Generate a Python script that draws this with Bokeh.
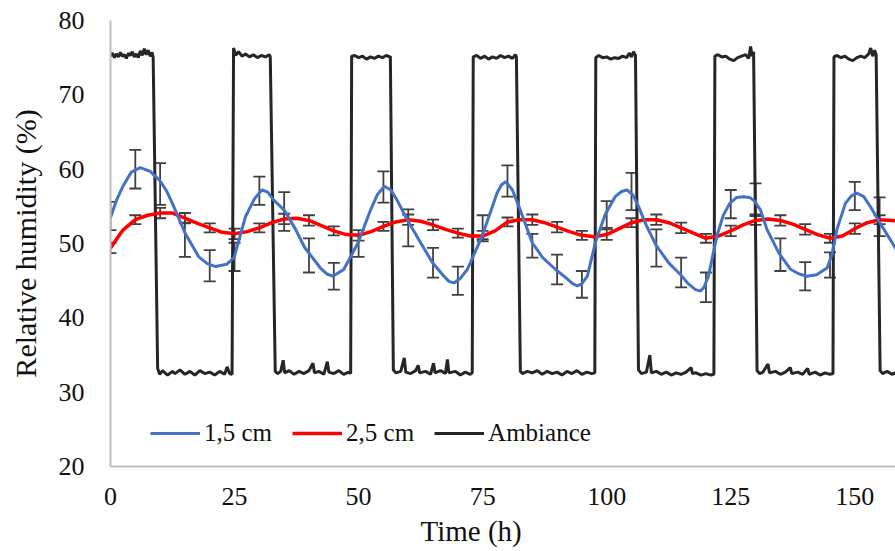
from bokeh.plotting import figure
from bokeh.models import (Range1d, ColumnDataSource, Whisker, TeeHead, Legend, LegendItem,
                          FixedTicker, Title)
from bokeh.embed import file_html
from bokeh.resources import INLINE

# ---------------- data ----------------
x_ticks = [0, 25, 50, 75, 100, 125, 150]
y_ticks = [20, 30, 40, 50, 60, 70, 80]

# Ambiance (black) trace
amb_t = [0, 0.4, 0.8, 1.2, 1.6, 2.0, 2.4, 2.8, 3.2, 3.6, 4.0, 4.4, 4.8, 5.2, 5.6, 6.0, 6.4, 6.8, 7.2, 7.6, 8.0, 8.4, 8.6,
         9.5, 9.9, 10.5, 11.5, 12.5, 13, 14, 15, 16, 17, 18, 19, 20, 21, 22, 23, 23.5, 24, 24.5,
         24.8, 25.2, 25.8, 26.5, 27.2, 28, 28.8, 29.6, 30.4, 31.2, 32.0, 32.2,
         33.2, 33.7, 34.3, 34.8, 35.1, 36, 37, 38, 39, 40, 40.8, 41.1, 42, 43, 43.7, 44, 45, 46, 47, 48, 48.4,
         48.6, 49.2, 50, 50.8, 51.6, 52.4, 53.2, 54, 54.8, 55.6, 56.2, 56.4,
         57.0, 57.5, 58.5, 59.2, 59.5, 60.5, 61.5, 62, 62.3, 63.5, 64.5, 65.1, 65.4, 66.5, 67.5, 67.9, 68.2, 69.5, 70.5, 71.5, 72.5, 72.9,
         73.1, 73.8, 74.6, 75.4, 76.2, 77, 77.8, 78.6, 79.4, 80.2, 81, 81.6, 81.8,
         82.6, 83, 84, 85, 86, 87, 88, 89, 90, 91, 92, 93, 94, 95, 96, 97, 97.6,
         97.8, 98.4, 99.2, 100, 100.8, 101.6, 102.4, 103.2, 104, 104.6, 105, 105.4, 105.8,
         106.4, 107, 108, 108.7, 109, 110, 111, 112, 113, 114, 115, 116, 117, 117.3, 118, 119, 120, 121, 121.6,
         121.8, 122.4, 123.2, 124, 124.8, 125.6, 126.4, 127.2, 128, 128.6, 129, 129.3, 129.6,
         130.3, 130.8, 131.5, 132.5, 132.8, 134, 135, 136, 137, 137.3, 138.5, 139.5, 140.5, 140.8, 142, 143, 144, 145, 145.6,
         145.8, 146.4, 147.2, 148, 148.8, 149.6, 150.4, 151.2, 152, 152.8, 153.2, 153.6, 154, 154.3,
         155.1, 155.6, 156.5, 157.5, 158.5, 159]
amb_v = [75.2, 75.6, 75.0, 75.5, 75.1, 75.7, 75.2, 75.4, 74.9, 75.6, 75.3, 75.8, 75.1, 75.5, 75.0, 75.9, 75.3, 76.2, 75.4, 76.0, 75.2, 75.7, 75.0,
         33.2, 32.4, 32.9, 32.3, 32.8, 32.5, 33.0, 32.4, 32.8, 32.3, 32.9, 32.5, 32.7, 32.3, 32.8, 32.4, 33.4, 32.5, 32.4,
         76.3, 75.3, 75.8, 75.2, 75.5, 75.1, 75.4, 75.0, 75.3, 75.1, 75.4, 75.1,
         32.8, 32.5, 32.8, 34.3, 32.6, 32.9, 32.4, 32.8, 32.5, 32.9, 33.9, 32.6, 32.8, 32.4, 34.1, 32.7, 32.5, 32.9, 32.4, 32.7, 32.5,
         75.2, 75.3, 75.0, 75.2, 74.8, 75.1, 74.9, 75.2, 75.0, 75.3, 75.1, 75.2,
         33.0, 32.6, 32.8, 34.6, 32.7, 32.5, 32.9, 33.6, 32.6, 32.8, 32.4, 33.9, 32.6, 32.9, 32.5, 34.4, 32.6, 32.8, 32.3, 32.7, 32.4, 32.6,
         75.1, 75.3, 74.9, 75.2, 74.8, 75.1, 74.9, 75.3, 75.0, 75.2, 74.9, 75.4, 75.1,
         32.8, 32.5, 32.8, 32.6, 32.9, 32.4, 32.8, 32.5, 32.7, 32.3, 32.8, 32.5, 32.9, 32.4, 32.7, 32.5, 32.6,
         75.0, 75.3, 75.0, 75.1, 74.8, 75.0, 74.9, 75.2, 75.0, 75.6, 75.1, 75.8, 75.3,
         33.0, 32.5, 32.7, 35.0, 32.6, 32.8, 32.4, 32.7, 32.3, 32.6, 32.4, 32.7, 33.3, 32.5, 32.6, 32.3, 32.5, 32.3, 32.4,
         75.2, 75.4, 75.1, 75.2, 74.8, 74.6, 75.0, 75.2, 75.4, 74.9, 76.5, 75.2, 75.8,
         32.9, 32.5, 32.7, 33.8, 32.6, 32.8, 32.4, 32.7, 33.3, 32.5, 32.7, 32.4, 33.2, 32.4, 32.7, 32.3, 32.6, 32.4, 32.5,
         75.1, 75.3, 75.0, 75.2, 74.8, 74.6, 75.0, 75.2, 75.0, 75.5, 76.3, 75.2, 76.0, 75.4,
         32.9, 32.5, 32.8, 32.4, 32.7, 32.5]

# 1,5 cm (blue) smoothed curve
c15_t = [0, 1.2, 2.5, 4.2, 6.0, 8.0, 9.9, 11.2, 12.4, 15.1, 17.8, 19.5, 21.2, 23.4, 24.9, 27.2, 29.0, 30.5, 31.7,
         32.8, 35.0, 37.3, 39.1, 42.3, 43.6, 44.8, 47.0, 49.9, 52.4, 53.8, 55.2, 56.5, 57.7, 59.8, 62.5, 64.9, 67.2,
         68.2, 69.2, 70.5, 71.9, 74.9, 77.9, 78.8, 79.7, 81.0, 82.3, 85.0, 87.1, 89.7, 92.1, 93.1, 94.1, 95.0, 96.1,
         97.7, 99.7, 101.7, 103.0, 104.1, 105.3, 106.4, 108.0, 110.0, 112.5, 114.9, 116.4, 117.9, 118.9, 119.6,
         120.5, 122.2, 123.5, 124.8, 126.2, 127.6, 128.8, 129.8, 131.0, 132.3, 134.7, 137.1, 138.8, 140.4, 142.3,
         144.4, 145.4, 146.4, 148.1, 149.3, 150.4, 151.8, 153.1, 155.5, 157.9, 159]
c15_v = [53.5, 55.8, 57.7, 59.6, 60.2, 59.7, 58.5, 57.2, 55.5, 51.3, 48.2, 47.3, 46.9, 47.2, 48.1, 53.6, 56.0, 57.2, 56.9,
         55.9, 54.5, 51.9, 49.5, 46.7, 45.9, 45.6, 46.5, 50.1, 54.5, 56.6, 57.7, 57.2, 55.9, 53.2, 50.1, 47.4, 45.6,
         44.9, 44.7, 45.3, 46.5, 51.0, 56.8, 57.9, 58.3, 57.2, 55.0, 50.1, 48.1, 46.5, 45.2, 44.6, 44.3, 44.6, 45.6,
         50.1, 53.9, 56.3, 57.0, 57.2, 56.5, 55.0, 52.4, 49.7, 47.4, 45.8, 44.6, 43.8, 43.6, 44.1,
         45.6, 51.0, 53.8, 55.4, 56.2, 56.3, 56.2, 55.7, 54.5, 51.9, 48.7, 46.5, 45.9, 45.6, 45.8,
         46.7, 48.5, 51.9, 55.4, 56.4, 56.8, 56.3, 55.0, 52.3, 49.7, 48.5]

# 2,5 cm (red) smoothed curve
c25_t = [0, 2.5, 5, 7.5, 10, 12.5, 15, 17.5, 20, 22.5, 25, 27.5, 30, 32.5, 35, 37.5, 40, 42.5, 45, 47.5, 50, 52.5,
         55, 57.5, 60, 62.5, 65, 67.5, 70, 72.5, 75, 77.5, 80, 82.5, 85, 87.5, 90, 92.5, 95, 97.5, 100, 102.5, 105,
         107.5, 110, 112.5, 115, 117.5, 120, 122.5, 125, 127.5, 130, 132.5, 135, 137.5, 140, 142.5, 145, 147.5, 150,
         152.5, 155, 157.5, 159]
c25_v = [49.4, 51.8, 53.2, 53.8, 54.1, 54.1, 53.4, 52.7, 52.1, 51.5, 51.3, 51.6, 52.1, 52.8, 53.3, 53.4, 53.1, 52.4,
         51.7, 51.2, 51.1, 51.6, 52.3, 52.9, 53.2, 53.0, 52.5, 51.9, 51.4, 51.0, 51.0, 51.7, 52.9, 53.2, 53.2, 52.8,
         52.2, 51.6, 51.1, 50.9, 51.2, 52.0, 52.8, 53.2, 53.2, 52.8, 52.1, 51.4, 50.7, 51.0, 51.7, 52.5, 53.1, 53.3,
         53.1, 52.6, 51.9, 51.2, 50.7, 51.0, 52.0, 52.8, 53.2, 53.1, 53.0]

# error bars (every 5 h)
err_t = [0, 5, 10, 15, 20, 25, 30, 35, 40, 45, 50, 55, 60, 65, 70, 75, 80, 85, 90, 95, 100, 105, 110, 115, 120,
         125, 130, 135, 140, 145, 150, 155]
m15 = [53.7, 60.0, 58.0, 50.5, 47.0, 48.2, 57.1, 54.3, 48.4, 45.6, 49.7, 57.6, 52.1, 47.4, 45.0, 52.2, 58.4, 49.7,
       46.5, 44.5, 53.9, 57.0, 49.4, 46.1, 44.1, 55.3, 56.0, 48.5, 45.6, 47.1, 56.4, 53.6]
e15 = [1.9, 2.6, 2.8, 2.3, 2.1, 1.9, 1.9, 2.6, 2.3, 1.8, 1.5, 2.1, 2.5, 2.0, 1.9, 1.6, 2.1, 1.6, 2.0, 1.8, 1.8, 2.5,
       2.5, 2.0, 2.0, 1.9, 2.1, 2.2, 1.9, 1.7, 1.9, 2.6]
m25 = [49.4, 53.2, 54.1, 53.4, 52.1, 51.3, 52.1, 53.3, 53.1, 51.7, 51.1, 52.3, 53.2, 52.5, 51.4, 51.0, 52.9, 53.2,
       52.2, 51.1, 51.2, 52.8, 53.2, 52.1, 50.7, 51.7, 53.1, 53.1, 51.9, 50.7, 52.0, 53.2]
e25 = [0.7, 0.6, 0.7, 0.7, 0.6, 0.7, 0.6, 0.7, 0.7, 0.6, 0.7, 0.6, 0.7, 0.7, 0.6, 0.7, 0.6, 0.7, 0.7, 0.6, 0.7, 0.6,
       0.7, 0.7, 0.6, 0.7, 0.6, 0.7, 0.7, 0.6, 0.7, 0.6]

# ---------------- figure ----------------
FONT = "Liberation Serif"
p = figure(width=895, height=551, output_backend="svg", toolbar_location=None,
           x_range=Range1d(0, 158.2), y_range=Range1d(20, 80),
           min_border_left=110, min_border_right=0, min_border_top=20, min_border_bottom=83)
p.outline_line_color = None
p.grid.visible = False
p.background_fill_color = "white"

r_amb = p.line(amb_t, amb_v, line_color="#262626", line_width=3)
r25 = p.line(c25_t, c25_v, line_color="#FF0000", line_width=3.5)
r15 = p.line(c15_t, c15_v, line_color="#4472C4", line_width=3)

src15 = ColumnDataSource(dict(t=err_t, lo=[m - e for m, e in zip(m15, e15)], hi=[m + e for m, e in zip(m15, e15)]))
src25 = ColumnDataSource(dict(t=err_t, lo=[m - e for m, e in zip(m25, e25)], hi=[m + e for m, e in zip(m25, e25)]))
for src in (src25, src15):
    w = Whisker(base="t", lower="lo", upper="hi", source=src, dimension="height",
                line_color="#404040", line_width=1.8,
                upper_head=TeeHead(size=12, line_color="#404040", line_width=1.8),
                lower_head=TeeHead(size=12, line_color="#404040", line_width=1.8))
    p.add_layout(w)

for ax in (p.xaxis[0], p.yaxis[0]):
    ax.axis_line_color = "#bfbfbf"
    ax.axis_line_width = 2
    ax.major_tick_line_color = None
    ax.minor_tick_line_color = None
    ax.major_label_text_font = FONT
    ax.major_label_text_font_size = "26px"
    ax.major_label_text_color = "#111111"
    ax.axis_label_text_font = FONT
    ax.axis_label_text_font_style = "normal"
    ax.axis_label_text_color = "#111111"

p.xaxis.ticker = FixedTicker(ticks=x_ticks)
p.yaxis.ticker = FixedTicker(ticks=y_ticks)
p.yaxis.axis_label = "Relative humidity (%)"
p.yaxis.axis_label_text_font_size = "30px"
p.xaxis.major_label_standoff = 15
p.yaxis.major_label_standoff = 20
p.yaxis.axis_label_standoff = 14

# x-axis title (placed left of the frame centre, as in the original)
p.add_layout(Title(text="Time (h)", align="left", offset=310, standoff=10,
                   text_font=FONT, text_font_size="29px", text_font_style="normal",
                   text_color="#111111"), "below")

legend = Legend(items=[LegendItem(label="1,5 cm", renderers=[r15]),
                       LegendItem(label="2,5 cm", renderers=[r25]),
                       LegendItem(label="Ambiance", renderers=[r_amb])],
                orientation="horizontal", location=(40, 19),
                glyph_width=50, glyph_height=20, label_standoff=4, spacing=20,
                padding=0, margin=0, border_line_color=None, background_fill_alpha=0,
                label_text_font=FONT, label_text_font_size="25px", label_text_color="#111111")
p.add_layout(legend)

open("out.html", "w").write(file_html(p, INLINE))
